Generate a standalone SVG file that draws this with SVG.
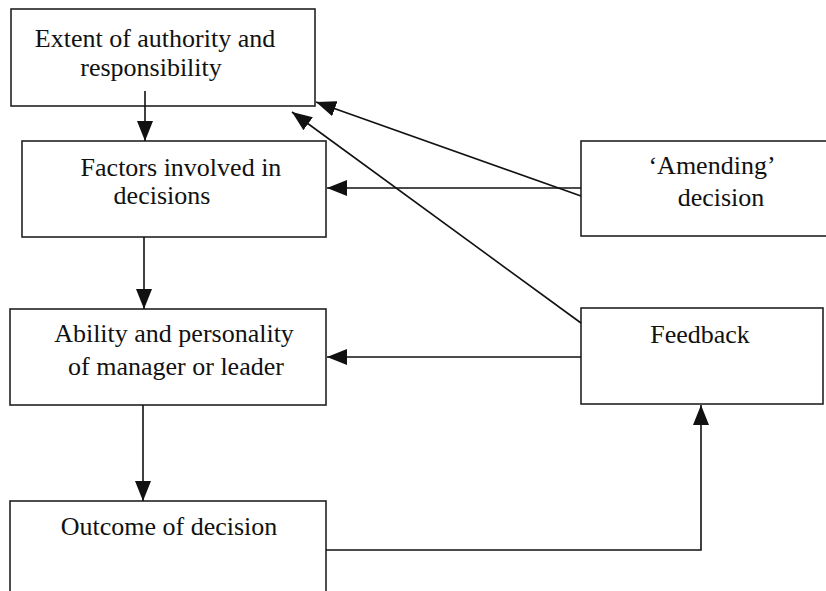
<svg xmlns="http://www.w3.org/2000/svg" width="826" height="591" viewBox="0 0 826 591">
<style>
.box{fill:#fff;stroke:#222;stroke-width:1.6}
.t{font-family:'Liberation Serif','DejaVu Serif',serif;font-size:26px;fill:#111;text-anchor:middle}
.c{fill:none;stroke:#111;stroke-width:1.6}
</style>
<defs>
<marker id="ah" viewBox="0 0 20 16" refX="20" refY="8" markerWidth="20" markerHeight="16" orient="auto" markerUnits="userSpaceOnUse">
<path d="M0,0 L20,8 L0,16 z" fill="#111"/>
</marker>
</defs>
<rect width="826" height="591" fill="#fff"/>
<g id="n1">
<rect class="box" x="11" y="9" width="304" height="97"/>
<text class="t" font-family="Liberation Serif, serif" x="155" y="47">Extent of authority and</text>
<text class="t" font-family="Liberation Serif, serif" x="151" y="76">responsibility</text>
</g>
<g id="n2">
<rect class="box" x="22" y="141" width="304" height="96"/>
<text class="t" font-family="Liberation Serif, serif" x="181" y="176">Factors involved in</text>
<text class="t" font-family="Liberation Serif, serif" x="162" y="204">decisions</text>
</g>
<g id="n3">
<rect class="box" x="581" y="141" width="250" height="95"/>
<text class="t" font-family="Liberation Serif, serif" x="712" y="174">‘Amending’</text>
<text class="t" font-family="Liberation Serif, serif" x="721" y="206">decision</text>
</g>
<g id="n4">
<rect class="box" x="10" y="309" width="316" height="96"/>
<text class="t" font-family="Liberation Serif, serif" x="174" y="342">Ability and personality</text>
<text class="t" font-family="Liberation Serif, serif" x="176" y="375">of manager or leader</text>
</g>
<g id="n5">
<rect class="box" x="581" y="308" width="242" height="96"/>
<text class="t" font-family="Liberation Serif, serif" x="700" y="343">Feedback</text>
</g>
<g id="n6">
<rect class="box" x="10" y="501" width="316" height="100"/>
<text class="t" font-family="Liberation Serif, serif" x="169" y="535">Outcome of decision</text>
</g>
<g id="connectors">
<line class="c" x1="145" y1="91" x2="145" y2="141" marker-end="url(#ah)"/>
<line class="c" x1="144" y1="237" x2="144" y2="309" marker-end="url(#ah)"/>
<line class="c" x1="143" y1="405" x2="143" y2="501" marker-end="url(#ah)"/>
<polyline class="c" points="326,550 701,550 701,405" marker-end="url(#ah)"/>
<line class="c" x1="581" y1="188" x2="327" y2="188" marker-end="url(#ah)"/>
<line class="c" x1="581" y1="196" x2="316" y2="102" marker-end="url(#ah)"/>
<line class="c" x1="581" y1="323" x2="292" y2="112" marker-end="url(#ah)"/>
<line class="c" x1="581" y1="357" x2="327" y2="357" marker-end="url(#ah)"/>
</g>
</svg>
